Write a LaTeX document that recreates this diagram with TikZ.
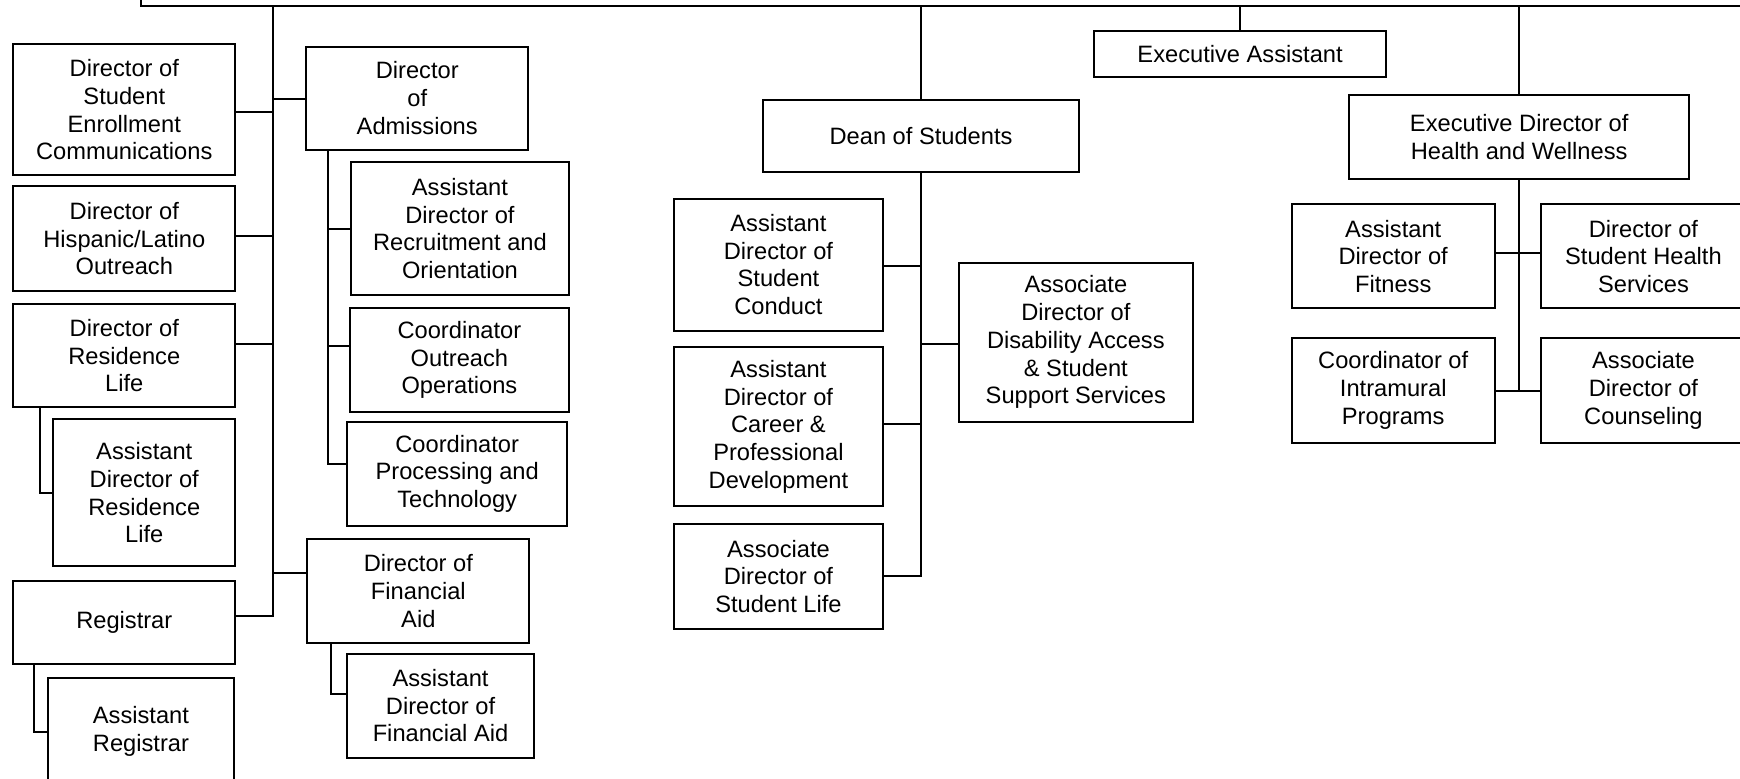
\documentclass[tikz,border=0pt]{standalone}
\usepackage{fontspec}
\setmainfont{Liberation Sans}
\newcommand\orgbox[6]{\node[box, minimum width={(#4-#2)*0.75pt}, minimum height={(#5-#3)*0.75pt}] (#1) at ({(#2+#4)/2},{(#3+#5)/2}) {#6};}
\begin{document}
\begin{tikzpicture}[x=0.75pt,y=-0.75pt,
  box/.style={draw, line width=1.35pt, inner sep=0pt, align=center, font=\fontsize{16}{18.75}\selectfont},
  link/.style={line width=1.35pt}]
\useasboundingbox (0,0) rectangle (1568,702);
% top (cut off)
\orgbox{top}{127}{-60}{1640}{5}{}
% left column
\orgbox{dsec}{12}{40}{212}{158}{Director of\\Student\\Enrollment\\Communications}
\orgbox{hisp}{12}{168}{212}{262}{Director of\\Hispanic/Latino\\Outreach}
\orgbox{res}{12}{274}{212}{367}{Director of\\Residence\\Life}
\orgbox{asstres}{48}{378}{212}{510}{Assistant\\Director of\\Residence\\Life}
\orgbox{reg}{12}{524}{212}{598}{Registrar}
\orgbox{asstreg}{43}{611}{211}{707}{Assistant\\Registrar}
% second column
\orgbox{adm}{276}{42}{476}{135}{Director\\of\\Admissions}
\orgbox{recruit}{316}{146}{513}{266}{Assistant\\Director of\\Recruitment and\\Orientation}
\orgbox{outreach}{315}{278}{513}{371}{Coordinator\\Outreach\\Operations}
\orgbox{proc}{313}{380}{511}{474}{Coordinator\\Processing and\\Technology}
\orgbox{fin}{277}{486}{477}{579}{Director of\\Financial\\Aid}
\orgbox{asstfin}{313}{589}{481}{683}{Assistant\\Director of\\Financial Aid}
% dean
\orgbox{dean}{688}{90}{972}{155}{Dean of Students}
\orgbox{conduct}{607}{179}{796}{298}{Assistant\\Director of\\Student\\Conduct}
\orgbox{career}{607}{313}{796}{456}{Assistant\\Director of\\Career \&\\Professional\\Development}
\orgbox{stulife}{607}{472}{796}{567}{Associate\\Director of\\Student Life}
\orgbox{disab}{864}{237}{1075}{380}{Associate\\Director of\\Disability Access\\\& Student\\Support Services}
% executive assistant
\orgbox{execasst}{986}{28}{1249}{69}{Executive Assistant}
% health
\orgbox{health}{1216}{86}{1522}{161}{Executive Director of\\Health and Wellness}
\orgbox{fitness}{1164}{184}{1347}{278}{Assistant\\Director of\\Fitness}
\orgbox{shs}{1389}{184}{1573}{278}{Director of\\Student Health\\Services}
\orgbox{intra}{1164}{305}{1347}{399}{Coordinator of\\Intramural\\Programs}
\orgbox{couns}{1389}{305}{1573}{399}{Associate\\Director of\\Counseling}

% main left trunk
\coordinate (jMain) at (246,5);
\draw[link] (jMain) -- (jMain |- 0,555) -- (reg.east |- 0,555);
\draw[link] (dsec.east |- 0,101) -- (jMain |- 0,101);
\draw[link] (hisp.east |- 0,213) -- (jMain |- 0,213);
\draw[link] (res.east |- 0,310) -- (jMain |- 0,310);
\draw[link] (adm.west |- 0,89) -- (jMain |- 0,89);
\draw[link] (fin.west |- 0,516) -- (jMain |- 0,516);
% residence sub
\coordinate (jRes) at (36,444);
\draw[link] (res.south -| jRes) -- (jRes) -- (asstres.west |- jRes);
% registrar sub
\coordinate (jReg) at (31,660);
\draw[link] (reg.south -| jReg) -- (jReg) -- (asstreg.west |- jReg);
% admissions sub
\coordinate (jAdm) at (296,418);
\draw[link] (adm.south -| jAdm) -- (jAdm) -- (proc.west |- jAdm);
\draw[link] (recruit.west |- 0,206) -- (jAdm |- 0,206);
\draw[link] (outreach.west |- 0,312) -- (jAdm |- 0,312);
% financial aid sub
\coordinate (jFin) at (298,625);
\draw[link] (fin.south -| jFin) -- (jFin) -- (asstfin.west |- jFin);
% dean
\draw[link] (top.south -| dean.north) -- (dean.north);
\draw[link] (dean.south) -- (dean.south |- 0,519) -- (stulife.east |- 0,519);
\draw[link] (conduct.east |- 0,240) -- (dean.south |- 0,240);
\draw[link] (career.east |- 0,382) -- (dean.south |- 0,382);
\draw[link] (disab.west |- 0,310) -- (dean.south |- 0,310);
% executive assistant
\draw[link] (top.south -| execasst.north) -- (execasst.north);
% health
\draw[link] (top.south -| health.north) -- (health.north);
\draw[link] (health.south) -- (health.south |- 0,352);
\draw[link] (fitness.east |- 0,228) -- (shs.west |- 0,228);
\draw[link] (intra.east |- 0,352) -- (couns.west |- 0,352);
\end{tikzpicture}
\end{document}
